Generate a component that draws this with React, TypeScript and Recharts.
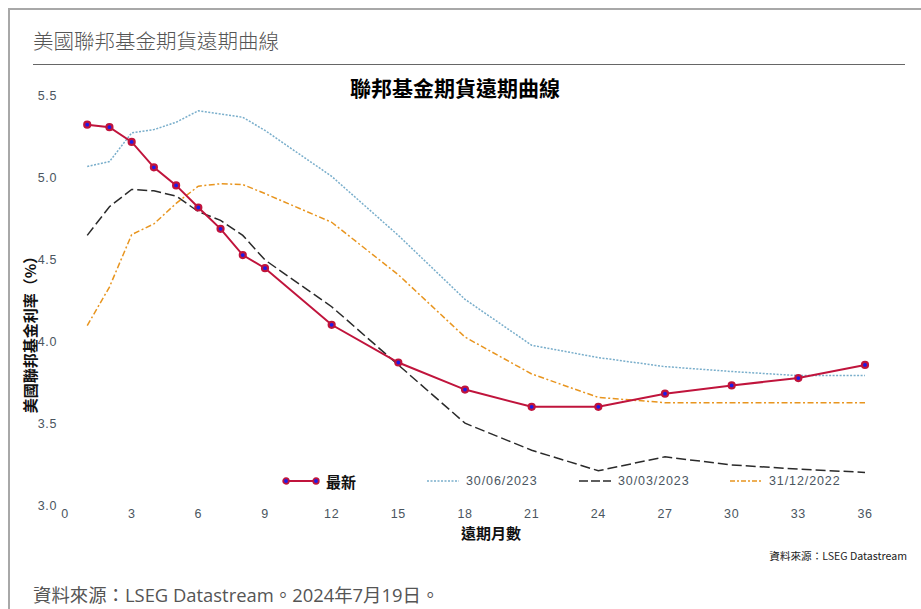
import React from 'react';
import { LineChart, Line, XAxis, YAxis, Legend } from 'recharts';

const months = [1, 2, 3, 4, 5, 6, 7, 8, 9, 12, 15, 18, 21, 24, 27, 30, 33, 36];
const latest = [5.325, 5.31, 5.22, 5.065, 4.955, 4.82, 4.69, 4.53, 4.45, 4.105, 3.875, 3.71, 3.605, 3.605, 3.685, 3.735, 3.78, 3.86];
const jun2023 = [5.07, 5.1, 5.275, 5.295, 5.34, 5.41, 5.39, 5.37, 5.29, 5.01, 4.65, 4.26, 3.98, 3.905, 3.85, 3.82, 3.795, 3.795];
const mar2023 = [4.65, 4.825, 4.93, 4.922, 4.89, 4.795, 4.742, 4.65, 4.5, 4.215, 3.86, 3.505, 3.34, 3.215, 3.3, 3.25, 3.225, 3.205];
const dec2022 = [4.1, 4.335, 4.655, 4.72, 4.845, 4.95, 4.965, 4.96, 4.905, 4.73, 4.41, 4.03, 3.805, 3.662, 3.63, 3.63, 3.63, 3.63];

const xTicks = [0, 3, 6, 9, 12, 15, 18, 21, 24, 27, 30, 33, 36];
const yTicks = [3.0, 3.5, 4.0, 4.5, 5.0, 5.5];

const seriesNames = ['最新', '30/06/2023', '30/03/2023', '31/12/2022'];

const data = months.map((m, i) => ({
  m,
  latest: latest[i],
  jun2023: jun2023[i],
  mar2023: mar2023[i],
  dec2022: dec2022[i],
}));

const CJK = '"Noto Sans CJK TC", "Noto Sans", sans-serif';
const SANS = '"Liberation Sans", Arial, sans-serif';
const RED = '#c0143c';
const BLUE_DOT = '#1c1ce8';
const LIGHTBLUE = '#79aecb';
const BLACK = '#2a2a2a';
const ORANGE = '#e8951f';

const YLabel = () => (
  <text
    x={29}
    y={331}
    transform="rotate(-90, 29, 331)"
    textAnchor="middle"
    dominantBaseline="central"
    style={{ fontFamily: CJK, fontSize: 15, fontWeight: 700, fill: '#111' }}
  >
    美國聯邦基金利率（%）
  </text>
);

const XLabel = () => (
  <text
    x={491}
    y={532}
    textAnchor="middle"
    dominantBaseline="central"
    style={{ fontFamily: CJK, fontSize: 15, fontWeight: 700, fill: '#111' }}
  >
    遠期月數
  </text>
);

const renderLegend = () => {
  const sample = (kind: number) => {
    if (kind === 0) {
      return (
        <svg width={38} height={10}>
          <line x1={3} y1={5} x2={35} y2={5} stroke={RED} strokeWidth={2} />
          <circle cx={4} cy={5} r={2.8} fill={BLUE_DOT} stroke={RED} strokeWidth={1.8} />
          <circle cx={34} cy={5} r={2.8} fill={BLUE_DOT} stroke={RED} strokeWidth={1.8} />
        </svg>
      );
    }
    const st = [
      null,
      { stroke: LIGHTBLUE, dash: '2 1.5' },
      { stroke: BLACK, dash: '9 3' },
      { stroke: ORANGE, dash: '5 2 2 2' },
    ][kind]!;
    return (
      <svg width={32} height={10}>
        <line x1={0} y1={5} x2={32} y2={5} stroke={st.stroke} strokeWidth={1.5} strokeDasharray={st.dash} />
      </svg>
    );
  };
  const lefts = [282, 427, 579, 730];
  return (
    <div style={{ position: 'relative', width: 921, height: 20 }}>
      {seriesNames.map((n, i) => (
        <div
          key={n}
          style={{
            position: 'absolute',
            left: lefts[i],
            top: 0,
            height: 20,
            display: 'flex',
            alignItems: 'center',
            gap: i === 0 ? 6 : 7,
          }}
        >
          {sample(i)}
          <span
            style={
              i === 0
                ? { fontFamily: CJK, fontSize: 15, fontWeight: 700, color: '#111' }
                : { fontFamily: SANS, fontSize: 12.5, letterSpacing: 0.9, color: '#4a5560' }
            }
          >
            {n}
          </span>
        </div>
      ))}
    </div>
  );
};

export default function App() {
  return (
    <div
      style={{
        position: 'absolute',
        left: 0,
        top: 0,
        width: 921,
        height: 609,
        background: '#fff',
        overflow: 'hidden',
      }}
    >
      <div
        style={{
          position: 'absolute',
          left: 8,
          top: 8,
          width: 940,
          height: 640,
          borderLeft: '2px solid #a8a8a8',
          borderTop: '2px solid #a8a8a8',
          boxSizing: 'border-box',
        }}
      />
      <div
        style={{
          position: 'absolute',
          left: 33,
          top: 26,
          fontFamily: CJK,
          fontSize: 20.5,
          fontWeight: 300,
          color: '#555',
          lineHeight: '28px',
          whiteSpace: 'nowrap',
        }}
      >
        美國聯邦基金期貨遠期曲線
      </div>
      <div
        style={{
          position: 'absolute',
          left: 33,
          top: 64,
          width: 872,
          height: 0,
          borderTop: '1.5px solid #666',
        }}
      />
      <div
        style={{
          position: 'absolute',
          left: 0,
          width: 910,
          top: 73,
          textAlign: 'center',
          fontFamily: CJK,
          fontSize: 21,
          fontWeight: 700,
          color: '#000',
          lineHeight: '28px',
        }}
      >
        聯邦基金期貨遠期曲線
      </div>
      <div style={{ position: 'absolute', left: 0, top: 0 }}>
        <LineChart
          width={921}
          height={609}
          data={data}
          margin={{ top: 96, right: 56, bottom: 53, left: 8 }}
        >
          <XAxis
            dataKey="m"
            type="number"
            domain={[0, 36]}
            ticks={xTicks}
            axisLine={false}
            tickLine={false}
            tickSize={0}
            tickMargin={3}
            height={30}
            interval={0}
            tick={{ fontFamily: SANS, fontSize: 12.5, fill: '#4a5560', letterSpacing: 0.6 }}
            label={<XLabel />}
          />
          <YAxis
            type="number"
            domain={[3, 5.5]}
            ticks={yTicks}
            axisLine={false}
            tickLine={false}
            tickSize={0}
            tickMargin={8}
            width={57}
            interval={0}
            tickFormatter={(v: number) => v.toFixed(1)}
            tick={{ fontFamily: SANS, fontSize: 12.5, fill: '#4a5560', letterSpacing: 0.6 }}
            label={<YLabel />}
          />
          <Legend
            content={renderLegend}
            wrapperStyle={{ position: 'absolute', left: 0, top: 471, width: 921, height: 20 }}
          />
          <Line
            dataKey="jun2023"
            name={seriesNames[1]}
            stroke={LIGHTBLUE}
            strokeWidth={1.5}
            strokeDasharray="2 1.5"
            dot={false}
            activeDot={false}
            type="linear"
            isAnimationActive={false}
          />
          <Line
            dataKey="mar2023"
            name={seriesNames[2]}
            stroke={BLACK}
            strokeWidth={1.5}
            strokeDasharray="10 4"
            dot={false}
            activeDot={false}
            type="linear"
            isAnimationActive={false}
          />
          <Line
            dataKey="dec2022"
            name={seriesNames[3]}
            stroke={ORANGE}
            strokeWidth={1.5}
            strokeDasharray="6 2.5 2 2.5"
            dot={false}
            activeDot={false}
            type="linear"
            isAnimationActive={false}
          />
          <Line
            dataKey="latest"
            name={seriesNames[0]}
            stroke={RED}
            strokeWidth={2}
            dot={{ r: 3, fill: BLUE_DOT, stroke: RED, strokeWidth: 2.2 }}
            activeDot={false}
            type="linear"
            isAnimationActive={false}
          />
        </LineChart>
      </div>
      <div
        style={{
          position: 'absolute',
          right: 14,
          top: 548,
          fontFamily: CJK,
          fontSize: 10.6,
          color: '#222',
          whiteSpace: 'nowrap',
        }}
      >
        資料來源：LSEG Datastream
      </div>
      <div
        style={{
          position: 'absolute',
          left: 33,
          top: 582,
          fontFamily: '"Open Sans", "Noto Sans CJK TC", sans-serif',
          fontSize: 18.4,
          color: '#555',
          whiteSpace: 'nowrap',
          lineHeight: '26px',
        }}
      >
        資料來源：LSEG Datastream。2024年7月19日。
      </div>
    </div>
  );
}
